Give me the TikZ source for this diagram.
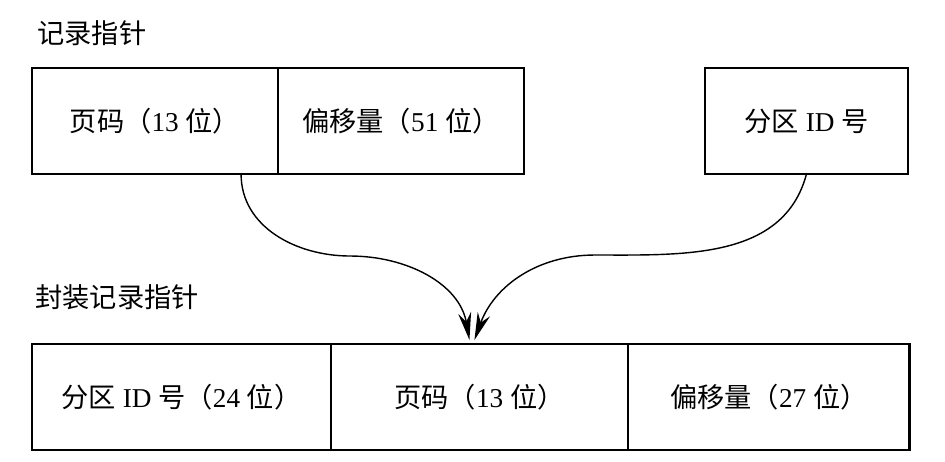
\documentclass[tikz,border=0pt]{standalone}
\usepackage{fontspec}
\setmainfont{Liberation Serif}
\newfontfamily\cjk{Noto Sans CJK SC}
\usetikzlibrary{calc,arrows.meta}
\newcommand{\zh}[1]{{\cjk #1}}

\begin{document}
\begin{tikzpicture}[x=0.02cm,y=-0.02cm,font=\fontsize{15.5}{18}\selectfont]
            \useasboundingbox (0,0) rectangle (945,461);
            \tikzset{field/.style={draw, line width=1.6pt, minimum height=2.12cm, inner sep=0pt, outer sep=0pt},
                     title/.style={anchor=west, inner sep=0pt},
                     link/.style={line width=0.8pt, -{Stealth[length=5.5mm,width=2.6mm]}}}
            % record pointer
            \node[title] (t1) at (37,33) {\zh{记录指针}};
            \node[field, minimum width=4.92cm] (page) at (155,121) {\zh{页码（}13 \zh{位）}};
            \node[field, minimum width=4.92cm, anchor=west] (off) at (page.east) {\zh{偏移量（}51 \zh{位）}};
            \node[field, minimum width=4.06cm] (pid) at (806.5,121) {\zh{分区} ID \zh{号}};
            % packed record pointer
            \node[title] (t2) at (35,297) {\zh{封装记录指针}};
            \node[field, minimum width=5.98cm] (bpid) at (181.5,397) {\zh{分区} ID \zh{号（}24 \zh{位）}};
            \node[field, minimum width=5.94cm, anchor=west] (bpage) at (bpid.east) {\zh{页码（}13 \zh{位）}};
            \node[field, minimum width=5.64cm, anchor=west] (boff) at (bpage.east) {\zh{偏移量（}27 \zh{位）}};
            \coordinate (tipl) at ($(bpage.north)+(-10,-4)$);
            \coordinate (tipr) at ($(bpage.north)+(-5,-4)$);
            \coordinate (src) at ($(page.south)!0.7!(page.south east)$);
            \draw[link] (src) to[out=-90,in=180] (350,256) to[out=0,in=100] (tipl);
            \draw[link] (pid.south) to[out=-105,in=0] (595,255) to[out=180,in=70] (tipr);
        \end{tikzpicture}
\end{document}
